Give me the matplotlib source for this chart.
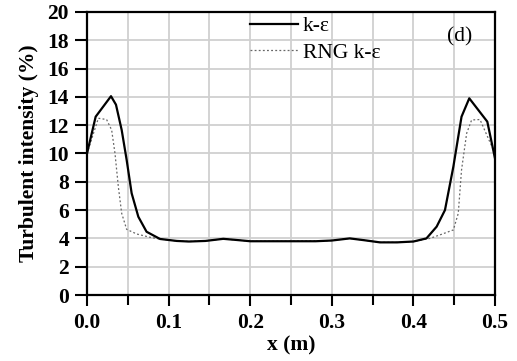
import matplotlib
matplotlib.use("Agg")
import matplotlib.pyplot as plt
from matplotlib.ticker import MultipleLocator, FormatStrFormatter

plt.rcParams['font.family'] = ['Liberation Serif', 'DejaVu Serif']

# k-epsilon (solid)
x_ke = [0.0, 0.0106, 0.0294, 0.0355, 0.0425, 0.0486, 0.0547, 0.0629, 0.073, 0.0895,
        0.11, 0.125, 0.145, 0.167, 0.185, 0.2, 0.25, 0.28, 0.3, 0.322, 0.34, 0.359,
        0.38, 0.4, 0.416, 0.4285, 0.4387, 0.449, 0.459, 0.4685, 0.4906, 0.5]
y_ke = [10.0, 12.6, 14.05, 13.45, 11.66, 9.54, 7.19, 5.53, 4.47, 3.96,
        3.82, 3.78, 3.82, 3.97, 3.88, 3.8, 3.8, 3.8, 3.85, 4.0, 3.87, 3.72,
        3.72, 3.78, 4.0, 4.83, 6.0, 9.07, 12.6, 13.9, 12.25, 9.66]

# RNG k-epsilon (dotted)
x_rng = [0.0, 0.0139, 0.024, 0.0302, 0.0343, 0.0384, 0.0425, 0.0486, 0.061, 0.0772,
         0.09, 0.11, 0.125, 0.145, 0.167, 0.185, 0.2, 0.25, 0.3, 0.322, 0.34, 0.359,
         0.38, 0.4, 0.4203, 0.435, 0.449, 0.455, 0.459, 0.4653, 0.4714, 0.4816, 0.5]
y_rng = [10.0, 12.49, 12.4, 11.66, 10.0, 7.65, 5.77, 4.64, 4.31, 4.08,
         3.95, 3.82, 3.78, 3.82, 3.97, 3.88, 3.8, 3.8, 3.85, 4.0, 3.87, 3.72,
         3.72, 3.78, 4.0, 4.3, 4.6, 5.77, 8.83, 11.43, 12.37, 12.4, 10.0]

FS = 15.5

fig = plt.figure(figsize=(5.17, 3.61), dpi=100, facecolor='white')
ax = fig.add_axes([0.1683, 0.1828, 0.7891, 0.784])

ax.set_xlim(0, 0.5)
ax.set_ylim(0, 20)
ax.xaxis.set_major_locator(MultipleLocator(0.1))
ax.xaxis.set_minor_locator(MultipleLocator(0.05))
ax.xaxis.set_major_formatter(FormatStrFormatter('%.1f'))
ax.yaxis.set_major_locator(MultipleLocator(2))

ax.grid(True, which='major', axis='both', color='#d0d0d0', linewidth=1.3)
ax.grid(True, which='minor', axis='x', color='#d0d0d0', linewidth=1.3)
ax.set_axisbelow(True)

ax.plot(x_ke, y_ke, color='black', lw=1.6, label='k-ε', zorder=3)
ax.plot(x_rng, y_rng, color='#666666', lw=0.9, linestyle=(0, (1.5, 1.8)), label='RNG k-ε', zorder=2)

ax.tick_params(axis='x', which='major', direction='out', length=8, width=1.5, labelsize=FS, pad=5)
ax.tick_params(axis='x', which='minor', direction='out', length=7, width=1.5)
ax.tick_params(axis='y', which='major', direction='out', length=9, width=1.5, labelsize=FS, pad=4)
for lab in ax.get_xticklabels() + ax.get_yticklabels():
    lab.set_fontweight('bold')
for s in ax.spines.values():
    s.set_linewidth(1.6)

ax.set_xlabel('x (m)', fontsize=FS, fontweight='bold', labelpad=2)
ax.set_ylabel('Turbulent intensity (%)', fontsize=FS, fontweight='bold', labelpad=6)

leg = ax.legend(loc='upper left', bbox_to_anchor=(0.40, 0.985), frameon=False, fontsize=FS,
                handlelength=2.2, handletextpad=0.25, labelspacing=0.3, borderpad=0,
                borderaxespad=0)

ax.text(0.914, 0.912, '(d)', transform=ax.transAxes, fontsize=FS, ha='center', va='center')

fig.savefig('out.png', dpi=100, facecolor='white')
